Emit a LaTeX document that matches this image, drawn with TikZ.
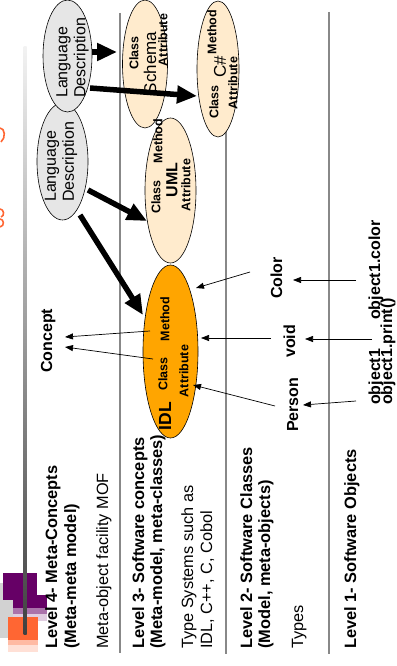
\documentclass[tikz,border=0pt]{standalone}
\usepackage{fontspec}
\setmainfont{Liberation Sans}
\usetikzlibrary{arrows.meta,shapes.geometric}
\definecolor{peach}{HTML}{FFEBCD}
\definecolor{idlorange}{HTML}{FFA500}
\definecolor{bubblegray}{HTML}{E6E6E6}
\definecolor{rulegray}{HTML}{888888}
\definecolor{titleorange}{HTML}{FF6633}
\definecolor{plum}{HTML}{660066}
\begin{document}
\begin{tikzpicture}[x=1pt,y=-1pt,
  rulestyle/.style={draw=rulegray, line width=1.4pt},
  bubble/.style={ellipse, draw=black, line width=0.6pt, inner sep=0},
  lvlhead/.style={rotate=90, anchor=base west, inner sep=0, font=\fontsize{16.4}{19}\selectfont\bfseries},
  lvltext/.style={rotate=90, anchor=base west, inner sep=0, font=\fontsize{16.3}{19}\selectfont},
  bubtag/.style={rotate=90, inner sep=0, font=\fontsize{12.5}{14}\selectfont\bfseries},
  bubname/.style={rotate=90, inner sep=0, font=\fontsize{17}{19}\selectfont},
  langtxt/.style={rotate=90, anchor=west, align=left, inner sep=0, font=\fontsize{16}{18}\selectfont},
  termlbl/.style={rotate=90, anchor=base west, inner sep=0, font=\fontsize{16}{19}\selectfont\bfseries},
  bigarrow/.style={line width=5.5pt, -{Triangle[length=20pt,width=17pt]}},
  smallarrow/.style={line width=0.7pt, -{Triangle[length=8pt,width=6pt]}},
]
\path[use as bounding box] (0,0) rectangle (396,666);

% logo blocks
\fill[gray!35] (0,583) rectangle (30,638);
\fill[plum] (3,573) rectangle (37,600);
\fill[plum] (13,595) rectangle (47,608);
\fill[plum!55] (13,608) rectangle (47,614);
\fill[plum!20] (13,614) rectangle (47,621);
\fill[titleorange] (8,617) rectangle (38,640);
\fill[titleorange!45] (8,640) rectangle (38,645);
\fill[titleorange!20] (8,645) rectangle (38,652);

% shaded bar and level separators
\shade[top color=gray!10, middle color=gray!55, bottom color=black!75] (23.5,47) rectangle (26.5,634);
\draw[rulestyle] (120,13) -- (120,653);
\draw[rulestyle] (226,13) -- (226,654);
\draw[rulestyle] (329,12) -- (329,654);

% title remnants
\draw[titleorange, line width=1.6pt] (0,128) .. controls (5,128) and (6,138) .. (1,142);
\draw[titleorange, line width=1.6pt] (0,209) .. controls (4,209) and (5,216) .. (1,217);
\draw[titleorange, line width=1.6pt] (0,219) .. controls (4,219) and (5,226) .. (0,227);

% level texts
\node[lvlhead] (l4a) at (57,649) {Level 4- Meta-Concepts};
\node[lvlhead] (l4b) at (76,649) {(Meta-meta model)};
\node[lvltext] (l4c) at (108,649) {Meta-object facility MOF};
\node[lvlhead] (l3a) at (144,649) {Level 3- Software concepts};
\node[lvlhead] (l3b) at (162,649) {(Meta-model, meta-classes)};
\node[lvltext] (l3c) at (193,649) {Type Systems such as};
\node[lvltext] (l3d) at (212,649) {IDL, C++, C, Cobol};
\node[lvlhead] (l2a) at (252,649) {Level 2- Software Classes};
\node[lvlhead] (l2b) at (270,649) {(Model, meta-objects)};
\node[lvltext] (l2c) at (303,649) {Types};
\node[lvlhead] (l1a) at (356,649) {Level 1- Software Objects};

% language description bubbles
\node[bubble, fill=bubblegray, minimum width=51, minimum height=117] (lang2) at (62.5,161.5) {};
\node[bubble, fill=bubblegray, minimum width=49, minimum height=112] (lang1) at (67.5,56) {};
\node[langtxt] (lang1txt) at (72.5,98) {Language\\Description};
\node[langtxt] (lang2txt) at (61,202) {Language\\Description};

% schema, C#, UML, IDL bubbles
\node[bubble, fill=peach, minimum width=45, minimum height=128] (schema) at (145,64) {};
\node[bubtag] (schemaclass) at (134,53) {Class};
\node[bubname] (schemaname) at (150,63) {Schema};
\node[bubtag] (schemaattr) at (163,40) {Attribute};

\node[bubble, fill=peach, minimum width=42, minimum height=136] (csharp) at (218,69) {};
\node[bubtag] (csmethod) at (212,32) {Method};
\node[bubname] (csname) at (220,67) {C\#};
\node[bubtag] (csclass) at (214,102) {Class};
\node[bubtag] (csattr) at (233,83) {Attribute};

\node[bubble, fill=peach, minimum width=51, minimum height=145] (uml) at (170.5,190.5) {};
\node[bubtag] (umlmethod) at (158,141) {Method};
\node[bubtag] (umlclass) at (156,197) {Class};
\node[bubtag, font=\fontsize{16}{18}\selectfont\bfseries] (umlname) at (172,180) {UML};
\node[bubtag] (umlattr) at (186,185) {Attribute};

\node[bubble, fill=idlorange, minimum width=55, minimum height=173] (idl) at (170.5,351.5) {};
\node[bubtag, font=\fontsize{17.5}{19}\selectfont\bfseries] (idlname) at (165,416) {IDL};
\node[bubtag] (idlclass) at (163,374) {Class};
\node[bubtag] (idlmethod) at (165,319) {Method};
\node[bubtag] (idlattr) at (184,371) {Attribute};

% free-standing terms
\node[termlbl] (concept) at (52,373) {Concept};
\node[termlbl] (color) at (282,299) {Color};
\node[termlbl] (void) at (295,358) {void};
\node[termlbl] (person) at (298,432) {Person};
\node[termlbl] (objcolor) at (380,320) {object1.color};
\node[termlbl] (obj) at (380,405) {object1};
\node[termlbl] (objprint) at (392,405) {object1.print()};

% arrow end points
\coordinate (l1a1) at (92,52);   \coordinate (sc1) at (117,52);
\coordinate (l1a2) at (90,88);   \coordinate (cs1) at (197,96);
\coordinate (l2a1) at (88,190);  \coordinate (um1) at (147,221);
\coordinate (l2a2) at (80,215);  \coordinate (id1) at (143,315);
\coordinate (idm) at (150,331);  \coordinate (cn1) at (65,337);
\coordinate (idc) at (153,359);  \coordinate (cn2) at (65,347);
\coordinate (colfrom) at (250,272); \coordinate (idcol) at (196,288);
\coordinate (voidfrom) at (271,338); \coordinate (idvoid) at (201,338);
\coordinate (perfrom) at (275,406); \coordinate (idper) at (193,385);
\coordinate (oc) at (356,280); \coordinate (colto) at (293,280);
\coordinate (op) at (372,339); \coordinate (voidto) at (305,339);
\coordinate (ob) at (356,401); \coordinate (perto) at (303,405);

% thick links from the language descriptions
\draw[bigarrow] (l1a1) -- (sc1);
\draw[bigarrow] (l1a2) -- (cs1);
\draw[bigarrow] (l2a1) -- (um1);
\draw[bigarrow] (l2a2) -- (id1);

% thin links
\draw[smallarrow] (idm) -- (cn1);
\draw[smallarrow] (idc) -- (cn2);
\draw[smallarrow] (colfrom) -- (idcol);
\draw[smallarrow] (voidfrom) -- (idvoid);
\draw[smallarrow] (perfrom) -- (idper);
\draw[smallarrow] (oc) -- (colto);
\draw[smallarrow] (op) -- (voidto);
\draw[smallarrow] (ob) -- (perto);
\end{tikzpicture}
\end{document}
